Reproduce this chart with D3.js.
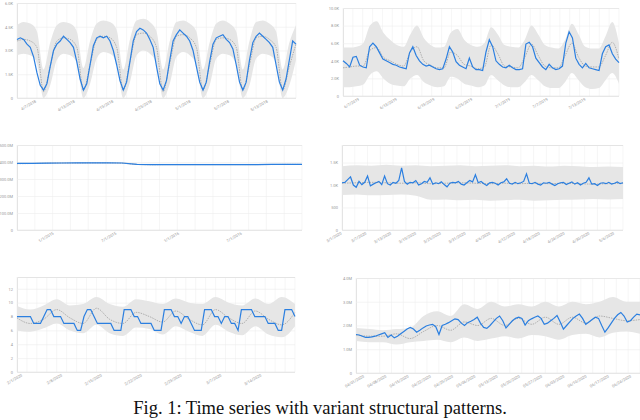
<!DOCTYPE html>
<html><head><meta charset="utf-8">
<script src="https://cdn.jsdelivr.net/npm/d3@7"></script>
<style>body{margin:0;background:#fff}</style></head>
<body><svg id="c" width="640" height="420"></svg>
<script>
// Panel 1 (K)
const p1Actual=[3.7,3.8,3.7,3.4,3.2,2.6,1.6,0.8,0.5,
0.9,2.0,3.0,3.4,3.6,3.9,3.7,3.5,3.2,2.3,1.2,0.5,
0.9,2.1,3.3,3.8,3.9,3.8,3.9,3.6,3.0,2.1,1.1,0.5,
1.0,2.3,3.6,4.2,4.4,4.3,4.1,3.7,3.2,2.0,0.9,0.5,
1.1,2.4,3.6,4.0,4.3,4.1,3.9,3.6,3.0,2.0,1.0,0.5,
1.0,2.3,3.4,3.8,3.9,4.0,3.7,3.5,3.1,2.1,1.0,0.5,
1.0,2.4,3.5,3.9,4.1,3.9,3.7,3.5,3.2,2.1,1.0,0.5,
1.2,2.4,3.6,3.4];
const p1Hi=[4.6,4.8,4.7,4.2,1.8,3.5,4.6,4.8,4.7,4.2,1.9,3.6,4.7,4.9,4.8,4.3,1.8,3.7,4.9,5.0,4.8,4.2,1.8,3.6,4.8,4.9,4.7,4.2,1.8,3.5,4.7,4.9,4.7,4.2,1.8,3.6,4.8,4.9,4.7,4.2,1.8,3.5,4.6];
const p1Lo=[2.7,2.8,2.7,2.2,0,0.8,2.4,2.8,2.7,2.2,0,0.9,2.5,2.9,2.8,2.2,0,1.0,2.7,3.0,2.8,2.2,0,0.9,2.6,2.9,2.7,2.1,0,0.8,2.5,2.8,2.7,2.1,0,0.8,2.5,2.8,2.7,2.2,0,0.8,2.4];
const p1Fc=[3.6,3.7,3.6,3.2,0.4,2.0,3.6,3.8,3.7,3.2,0.5,2.1,3.7,3.9,3.8,3.2,0.5,2.3,4.0,4.1,3.9,3.2,0.4,2.2,3.9,4.0,3.8,3.2,0.5,2.1,3.7,3.8,3.7,3.2,0.5,2.1,3.8,3.9,3.7,3.2,0.5,2.0,3.4];
const p1Labels=["4/7/2018","4/13/2018","4/19/2018","4/25/2018","5/1/2018","5/7/2018","5/13/2018"];
// Panel 2 (K)
const p2Actual=[4.0,3.7,3.3,4.4,4.5,3.5,3.3,3.2,5.6,6.0,5.6,4.9,4.2,4.0,3.8,3.6,3.5,3.3,3.2,3.1,4.9,5.6,4.6,4.0,3.6,3.4,3.5,3.3,3.1,3.0,3.1,4.2,5.6,5.0,3.9,3.5,3.3,3.1,4.3,3.3,3.0,3.0,2.9,5.0,6.4,5.6,4.0,3.6,3.3,3.2,3.5,3.2,3.0,3.0,3.1,5.9,6.1,5.6,4.3,3.8,3.3,3.0,3.6,3.2,3.0,3.1,3.4,6.0,7.3,6.6,4.3,3.6,3.2,3.7,3.2,3.1,3.0,2.9,4.8,5.6,5.8,4.8,4.2,3.8];
const p2Hi=[5.5,5.5,5.6,6.0,8.0,8.5,7.2,6.4,5.8,5.6,7.0,8.0,6.6,5.8,5.5,5.6,7.2,7.6,6.4,5.8,5.6,6.0,7.8,7.0,5.8,5.6,5.5,6.4,8.0,7.0,5.8,5.5,5.4,6.4,8.2,7.0,5.6,5.4,5.4,6.8,8.4,6.0];
const p2Lo=[1.0,1.0,1.1,1.3,2.4,2.8,2.0,1.4,1.2,1.1,2.0,2.4,1.6,1.2,1.0,1.1,2.2,2.0,1.4,1.2,1.0,1.2,2.4,1.8,1.2,1.0,1.0,1.6,2.4,1.8,1.1,0.9,0.9,1.6,2.6,1.8,1.0,0.8,0.9,1.8,2.6,1.4];
const p2Fc=[3.2,3.3,3.4,3.4,5.2,5.5,4.4,4.0,3.6,3.4,5.0,5.6,4.0,3.5,3.2,3.2,5.0,4.6,3.6,3.4,3.1,3.3,5.8,4.8,3.4,3.3,3.2,4.4,5.9,4.6,3.4,3.2,3.2,4.6,6.0,4.4,3.4,3.3,3.3,4.6,6.1,4.2];
const p2Labels=["6/7/2019","6/13/2019","6/19/2019","6/25/2019","7/1/2019","7/7/2019","7/13/2019"];
// Panel 3 (M)
const p3Actual=[392,392,393,394,395,395,395,394,386,385,385,385,385,385,385,385,385,386,386,386];
const p3Hi=[396,396,397,398,399,399,399,398,390,389,389,389,389,389,389,389,389,390,390,390];
const p3Lo=[388,388,389,390,391,391,391,390,382,381,381,381,381,381,381,381,381,382,382,382];
const p3Fc=[390,391,393,394,394,395,395,393,386,384,385,385,385,385,385,385,385,385,386,386];
const p3Labels=["1/1/2015","7/1/2015","1/1/2016","7/1/2016"];
// Panel 4
const p4Actual=[1050,1060,1120,1180,1000,950,1080,1010,1060,1200,980,1020,1050,1080,1010,1200,1030,1000,1060,1040,1100,1380,1080,1020,1060,1050,1100,1000,1030,1080,1060,1160,1020,1050,1030,1070,1010,960,1040,1060,1050,1080,1020,1000,1050,1100,1070,1230,1050,1080,1030,990,1050,1060,1040,1000,1050,1070,1140,1040,1020,1060,1030,1050,1080,1250,1040,1030,1060,1020,1000,1050,1040,1060,1020,990,1030,1050,1060,1010,1040,1070,1020,1050,1000,1040,1060,1160,1020,1030,990,1040,1050,1030,1060,1020,1040,1070,1030,1050];
const p4Hi=[1420,1440,1430,1450,1430,1440,1420,1430,1440,1420,1430,1440,1420,1430,1410,1430,1420,1400,1410,1400];
const p4Lo=[780,790,770,780,790,760,670,680,660,670,650,660,670,650,660,670,680,690,680,690];
const p4Fc=[1040,1050,1060,1050,1040,1050,1030,1040,1050,1040,1030,1040,1030,1040,1030,1040,1030,1020,1030,1040];
const p4Labels=["3/1/2020","3/7/2020","3/13/2020","3/19/2020","3/25/2020","3/31/2020","4/6/2020","4/12/2020","4/18/2020","4/24/2020","4/30/2020","5/6/2020"];
// Panel 5
const p5Actual=[8,8,8,8,8,7,7,7,8,9,9,8,8,8,7,7,7,7,6,6,8,9,9,8,7,7,7,7,7,6,6,6,9,9,9,8,8,7,7,7,7,6,6,6,9,9,9,8,8,7,8,8,7,6,6,6,9,9,9,8,8,7,8,8,7,7,6,9,9,9,9,8,8,8,8,7,7,7,6,6,9,9,9,8];
const p5Hi=[9.5,9.0,9.6,10.5,9.6,9.8,10.8,9.8,9.4,10.5,10.2,9.8,10.6,10.0,9.8,10.8,10.0,9.6,10.6,9.8,10.8,9.8];
const p5Lo=[6.0,5.8,6.3,7.0,6.0,5.6,6.8,5.6,5.2,6.4,6.2,5.4,6.6,5.8,5.2,6.8,5.8,5.3,6.6,5.4,5.0,6.6];
const p5Fc=[7.8,7.0,7.6,9.0,7.8,7.0,9.2,7.6,7.0,8.6,8.0,7.2,8.8,7.6,6.8,9.0,7.8,7.0,8.8,7.6,6.8,8.6];
const p5Labels=["2/1/2020","2/8/2020","2/15/2020","2/22/2020","2/29/2020","3/7/2020","3/14/2020"];
// Panel 6 (M)
const p6Actual=[1.62,1.60,1.55,1.50,1.50,1.52,1.55,1.60,1.65,1.70,1.50,1.60,1.48,1.55,1.65,1.75,1.85,1.92,1.85,1.72,1.80,1.90,1.98,2.02,2.05,1.95,1.62,2.00,2.05,2.12,2.20,2.28,2.25,2.10,2.00,2.12,2.18,2.25,2.35,2.10,1.92,1.88,2.00,2.15,2.30,2.40,2.20,1.90,2.05,2.20,2.30,2.35,2.30,2.02,2.20,2.28,2.35,2.40,2.30,2.05,2.10,2.20,2.30,2.42,2.15,1.85,2.00,2.15,2.30,2.40,2.48,2.30,2.05,2.15,2.25,2.35,2.30,2.00,1.72,1.90,2.10,2.30,2.45,2.55,2.40,2.15,2.20,2.35,2.48,2.45];
const p6Hi=[1.9,1.85,1.8,1.85,1.9,2.4,2.6,2.4,2.9,2.7,3.0,2.8,2.9,2.8,3.0,2.8,3.0,2.9,3.0,3.2,3.0,3.0];
const p6Lo=[1.35,1.3,1.3,1.2,1.3,1.35,1.4,1.3,1.5,1.35,1.45,1.55,1.45,1.6,1.55,1.4,1.6,1.65,1.5,1.7,1.75,1.65];
const p6Fc=[1.6,1.55,1.55,1.65,1.45,1.75,2.0,1.8,2.15,2.0,2.3,2.0,2.3,2.05,2.35,2.05,2.35,2.1,2.4,2.3,2.2,2.25];
const p6Labels=["04/01/2020","04/08/2020","04/15/2020","04/22/2020","04/29/2020","05/06/2020","05/13/2020","05/20/2020","05/27/2020","06/03/2020","06/10/2020","06/17/2020","06/24/2020"];

const svg=d3.select("#c");
function panel(c){
  const g=svg.append("g");
  const y=d3.scaleLinear().domain([0,c.ymax]).range([c.y1,c.y0]);
  const xl=d3.scaleLinear().domain([0,c.line.length-1]).range([c.x0,c.x1]);
  const xb=d3.scaleLinear().domain([0,c.fc.length-1]).range([c.x0,c.x1]);
  const nv=c.nv||28;
  const xv=d3.scaleLinear().domain([0,nv]).range([c.x0,c.x1]);
  g.selectAll(".v").data(d3.range(nv+1)).join("line").attr("x1",d=>xv(d)).attr("x2",d=>xv(d)).attr("y1",c.y0).attr("y2",c.y1).attr("stroke","#f0f0f0").attr("stroke-width",0.6);
  const ax=g.append("g").attr("transform",`translate(${c.x0},0)`).call(d3.axisLeft(y).tickValues(c.ticks).tickFormat(c.fmt).tickSize(-(c.x1-c.x0)).tickPadding(4));
  ax.select(".domain").attr("stroke","#e4e4e4");
  ax.selectAll(".tick line").attr("stroke","#ececec").attr("stroke-width",0.6);
  ax.selectAll("text").attr("font-size",4).attr("fill","#999").attr("font-family","Roboto");
  g.append("path").datum(c.fc.map((d,i)=>i)).attr("fill","#e6e6e6")
    .attr("d",d3.area().x(i=>xb(i)).y0(i=>y(c.lo[i])).y1(i=>y(c.hi[i])).curve(d3.curveMonotoneX));
  g.append("path").datum(c.fc).attr("fill","none").attr("stroke","#8a8a8a").attr("stroke-width",0.6).attr("stroke-dasharray","1.5,1")
    .attr("d",d3.line().x((d,i)=>xb(i)).y(d=>y(d)).curve(d3.curveMonotoneX));
  g.append("path").datum(c.line).attr("fill","none").attr("stroke","#2b7fe0").attr("stroke-width",1.2)
    .attr("d",d3.line().x((d,i)=>xl(i)).y(d=>y(d)));
  g.append("line").attr("x1",c.x0).attr("x2",c.x1).attr("y1",c.y1).attr("y2",c.y1).attr("stroke","#e4e4e4").attr("stroke-width",0.6);
  const n=c.labels.length;
  const xt=d3.scaleLinear().domain([0,n-1]).range([c.x0+(c.x1-c.x0)*c.lp[0],c.x0+(c.x1-c.x0)*c.lp[1]]);
  g.selectAll(".xl").data(c.labels).join("text").attr("font-size",4).attr("fill","#999").attr("font-family","Roboto")
    .attr("text-anchor","end").attr("transform",(d,i)=>`translate(${xt(i)},${c.y1+4}) rotate(-30)`).text(d=>d);
}
const fK=d=>d===0?"0":d3.format(".1f")(d)+"K";
panel({x0:17,x1:296,y0:3,y1:98,ymax:6,ticks:[0,1.5,3,4.5,6],fmt:fK,line:p1Actual,hi:p1Hi,lo:p1Lo,fc:p1Fc,labels:p1Labels,lp:[0.07,0.9]});
panel({x0:343,x1:619,y0:8,y1:96,ymax:10,ticks:[0,2,4,6,8,10],fmt:fK,line:p2Actual,hi:p2Hi,lo:p2Lo,fc:p2Fc,labels:p2Labels,lp:[0.06,0.88]});
panel({x0:17,x1:302,y0:145,y1:230,ymax:500,ticks:[0,100,200,300,400,500],fmt:d=>d===0?"0":d+".0M",line:p3Actual,hi:p3Hi,lo:p3Lo,fc:p3Fc,labels:p3Labels,lp:[0.13,0.79],nv:16});
panel({x0:342,x1:623,y0:145,y1:230,ymax:1890,ticks:[0,500,1000,1500],fmt:d=>d===0?"0":d<1000?d:d3.format(".1f")(d/1000)+"K",line:p4Actual,hi:p4Hi,lo:p4Lo,fc:p4Fc,labels:p4Labels,lp:[0,0.97],nv:22});
panel({x0:17,x1:295,y0:277,y1:372,ymax:13.7,ticks:[0,2,4,6,8,10,12],fmt:d=>d,line:p5Actual,hi:p5Hi,lo:p5Lo,fc:p5Fc,labels:p5Labels,lp:[0.02,0.88]});
panel({x0:356,x1:640,y0:278,y1:373,ymax:4,ticks:[0,1,2,3,4],fmt:d=>d===0?"0":d3.format(".1f")(d)+"M",line:p6Actual,hi:p6Hi,lo:p6Lo,fc:p6Fc,labels:p6Labels,lp:[0.03,0.97],nv:24});
svg.append("text").attr("x",320).attr("y",414).attr("text-anchor","middle").attr("font-family","Liberation Serif").attr("font-size",18.5).attr("fill","#111").text("Fig. 1: Time series with variant structural patterns.");
</script></body></html>
